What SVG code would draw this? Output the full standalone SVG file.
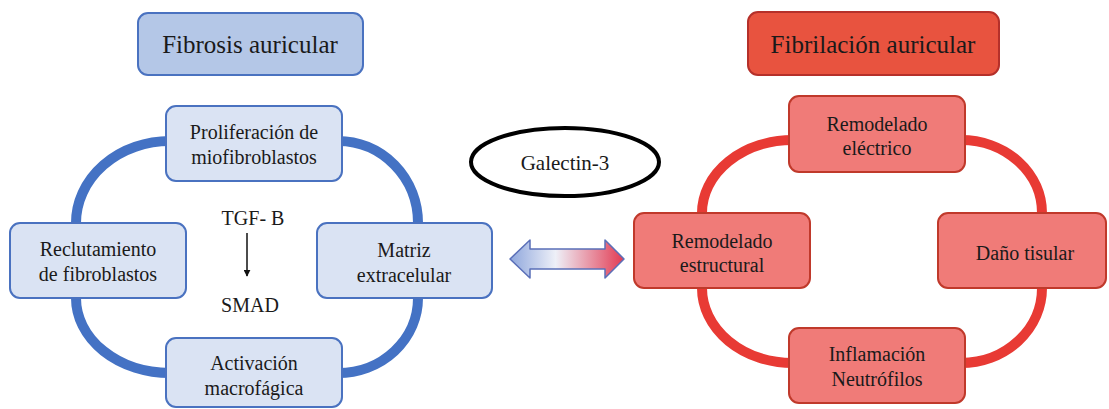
<svg xmlns="http://www.w3.org/2000/svg" width="1109" height="409" viewBox="0 0 1109 409">
<style>
text{fill:#1a1a1a;text-anchor:middle;font-family:"Liberation Serif","Times New Roman",serif}
.t{font-size:25px}
.n{font-size:20px}
.bn{fill:#dae3f3;stroke:#4a72c0;stroke-width:2}
.bt{fill:#b4c7e7;stroke:#4a72c0;stroke-width:2}
.rn{fill:#f07b78;stroke:#c0392b;stroke-width:2}
.rt{fill:#e8533f;stroke:#b5302a;stroke-width:2}
.bring{fill:none;stroke:#4472c4;stroke-width:10}
.rring{fill:none;stroke:#e83a34;stroke-width:10}
</style>
<defs>
<linearGradient id="ag" x1="0" y1="0" x2="1" y2="0">
<stop offset="0" stop-color="#8ea6dc"/>
<stop offset="0.4" stop-color="#eef0f8"/>
<stop offset="1" stop-color="#e23a52"/>
</linearGradient>
<marker id="ah" viewBox="0 0 10 10" refX="9" refY="5" markerWidth="7" markerHeight="7" orient="auto" markerUnits="userSpaceOnUse">
<path d="M0,0 L10,5 L0,10 z" fill="#111"/>
</marker>
</defs>
<g id="connectors">
<path class="bring" d="M170,141 A94,82 0 0 0 76,223"/>
<path class="bring" d="M338,141 A80,82 0 0 1 418,223"/>
<path class="bring" d="M76,298 A94,75 0 0 0 170,373"/>
<path class="bring" d="M418,298 A80,75 0 0 1 338,373"/>
<path class="rring" d="M793,140 A91,73 0 0 0 702,213"/>
<path class="rring" d="M961,140 A81,73 0 0 1 1042,213"/>
<path class="rring" d="M702,288 A91,75 0 0 0 793,363"/>
<path class="rring" d="M1042,288 A81,75 0 0 1 961,363"/>
<line x1="247" y1="233" x2="247" y2="276" stroke="#111" stroke-width="1.5" marker-end="url(#ah)"/>
<path d="M510,259 L530,240 L530,249 L605,249 L605,240 L624,259 L605,278 L605,269 L530,269 L530,278 Z" fill="url(#ag)" stroke="#5a6fb8" stroke-width="1.5" stroke-linejoin="round"/>
</g>
<g id="title-fibrosis"><rect class="bt" x="138" y="13" width="225" height="62" rx="10"/><text class="t" x="250" y="53">Fibrosis auricular</text></g>
<g id="title-fibrilacion"><rect class="rt" x="748" y="12" width="251" height="63" rx="10"/><text class="t" x="873" y="53">Fibrilación auricular</text></g>
<g id="proliferacion"><rect class="bn" x="166" y="106" width="176" height="75" rx="10"/><text class="n" x="254" y="139">Proliferación de</text><text class="n" x="254" y="164">miofibroblastos</text></g>
<g id="reclutamiento"><rect class="bn" x="10" y="223" width="176" height="75" rx="10"/><text class="n" x="98" y="256">Reclutamiento</text><text class="n" x="98" y="281">de fibroblastos</text></g>
<g id="matriz"><rect class="bn" x="317" y="223" width="175" height="75" rx="10"/><text class="n" x="404" y="257">Matriz</text><text class="n" x="404" y="282">extracelular</text></g>
<g id="activacion"><rect class="bn" x="166" y="338" width="176" height="69" rx="10"/><text class="n" x="254" y="370">Activación</text><text class="n" x="254" y="395">macrofágica</text></g>
<g id="tgf"><text class="n" x="253" y="225">TGF- B</text><text class="n" x="250" y="312">SMAD</text></g>
<g id="galectin"><ellipse cx="565" cy="162" rx="94" ry="34" fill="#fff" stroke="#000" stroke-width="4"/><text class="n" x="565" y="170" style="font-size:21px">Galectin-3</text></g>
<g id="remodelado-electrico"><rect class="rn" x="789" y="96" width="176" height="76" rx="10"/><text class="n" x="877" y="131">Remodelado</text><text class="n" x="877" y="155">eléctrico</text></g>
<g id="remodelado-estructural"><rect class="rn" x="634" y="213" width="176" height="75" rx="10"/><text class="n" x="722" y="248">Remodelado</text><text class="n" x="722" y="272">estructural</text></g>
<g id="dano"><rect class="rn" x="938" y="213" width="168" height="75" rx="10"/><text class="n" x="1025" y="260">Daño tisular</text></g>
<g id="inflamacion"><rect class="rn" x="789" y="328" width="176" height="75" rx="10"/><text class="n" x="877" y="361">Inflamación</text><text class="n" x="877" y="386">Neutrófilos</text></g>
</svg>
